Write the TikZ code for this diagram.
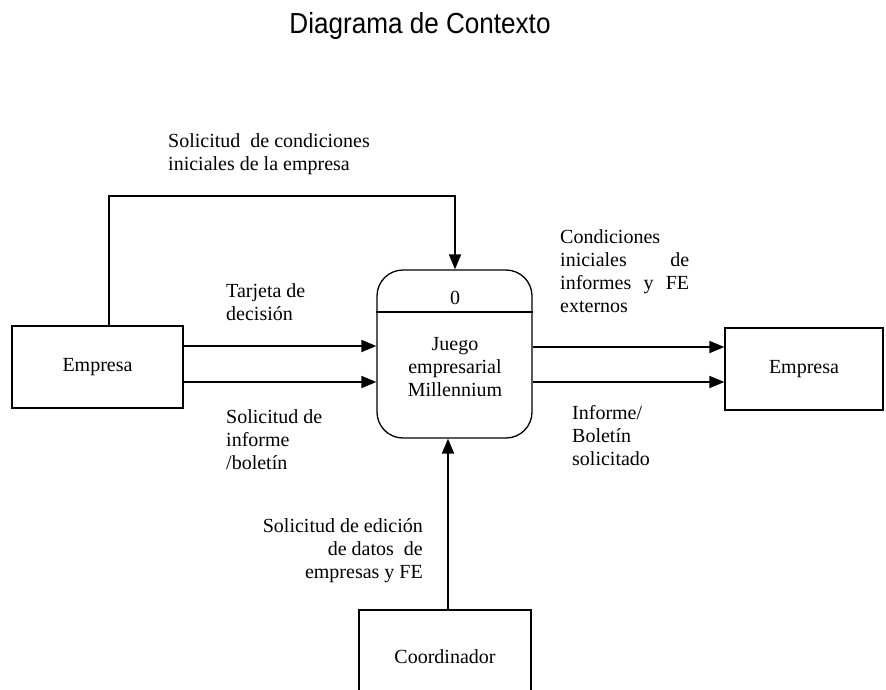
\documentclass[tikz,border=0pt]{standalone}
\usepackage{fontspec}
\setmainfont{Liberation Serif}
\newfontfamily\titlefont{Liberation Sans}
\usetikzlibrary{arrows.meta}
\begin{document}
\begin{tikzpicture}[x=1pt,y=-1pt,
  lbl/.style={font=\fontsize{20}{23}\selectfont, inner sep=0pt, align=left},
  entity/.style={draw, line width=1.3pt, font=\fontsize{20}{23}\selectfont, inner sep=0pt},
  proc/.style={draw, line width=1.3pt, rounded corners=26pt, inner sep=0pt},
  flow/.style={line width=1.8pt, -{Triangle[length=15pt,width=12pt]}},
  line/.style={line width=1.8pt}
]
\useasboundingbox (0,0) rectangle (886,689);

% title
\node[anchor=base, inner sep=0pt] (title) at (420,33)
  {\scalebox{0.9}[1]{\titlefont\fontsize{29}{30}\selectfont Diagrama de Contexto}};

% entities and process
\node[entity, minimum width=171pt, minimum height=82pt] (emp1) at (97.5,367) {Empresa};
\node[entity, minimum width=158pt, minimum height=82pt] (emp2) at (804,369) {Empresa};
\node[entity, minimum width=172pt, minimum height=90pt] (coord) at (445,655) {};
\node[font=\fontsize{20}{23}\selectfont, inner sep=0pt, anchor=base] (coordtxt) at (445,663) {Coordinador};
\node[proc, minimum width=155pt, minimum height=168pt] (proc) at (454.5,354) {};
\coordinate (divl) at (proc.west |- 0,312);
\coordinate (divr) at (proc.east |- 0,312);
\draw[line width=1.3pt] (divl) -- (divr);
\node[font=\fontsize{20}{23}\selectfont, inner sep=0pt, anchor=base] (pnum) at (455,304) {0};
\node[font=\fontsize{20}{23}\selectfont, inner sep=0pt, align=center] (pname) at (455,367)
  {Juego\\empresarial\\Millennium};

% flows
\draw[flow] (emp1.east |- 0,346) -- (proc.west |- 0,346);
\draw[flow] (emp1.east |- 0,382) -- (proc.west |- 0,382);
\draw[flow] (proc.east |- 0,347) -- (emp2.west |- 0,347);
\draw[flow] (proc.east |- 0,382) -- (emp2.west |- 0,382);
\draw[flow] (emp1.north -| 109,0) |- (455,196) -- (proc.north -| 455,0);
\draw[flow] (coord.north -| 448,0) -- (proc.south -| 448,0);

% labels
\node[lbl, anchor=north west] (l1) at (168,133.5) {Solicitud~ de condiciones\\iniciales de la empresa};
\node[lbl, anchor=north west] (l2) at (226,283) {Tarjeta de\\decisión};
\node[lbl, anchor=north west] (l3) at (226,409) {Solicitud de\\informe\\/boletín};
\node[lbl, anchor=north west, text width=129pt] (l4) at (560,229.5)
  {Condiciones\\iniciales\hfill de\\informes\hfill y\hfill FE\\externos};
\node[lbl, anchor=north west] (l5) at (572,405.5) {Informe/\\Boletín\\solicitado};
\node[lbl, anchor=north east, align=right] (l6) at (423,518.5) {Solicitud de edición\\de datos~ de\\empresas y FE};
\end{tikzpicture}
\end{document}
